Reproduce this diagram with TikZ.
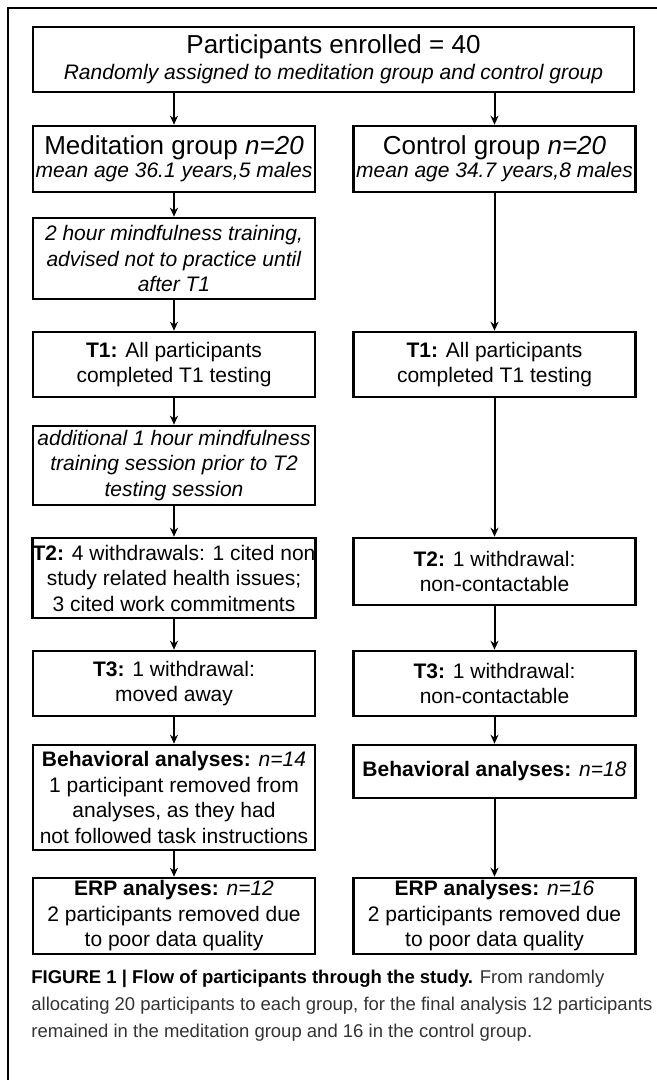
\documentclass[tikz,border=0pt]{standalone}
\usepackage{fontspec}
\setmainfont{Liberation Sans}
\usetikzlibrary{arrows.meta}

\begin{document}
\begin{tikzpicture}[x=0.5pt, y=-0.5pt, >={Stealth[length=4.5pt, width=4pt]},
        box/.style={draw, line width=1.3pt, align=center, inner sep=0pt,
            minimum width=141pt, font=\fontsize{10.5}{12.75}\selectfont},
        arr/.style={->, line width=1pt}]
    \useasboundingbox (0,0) rectangle (657,1080);
    % Frame
    \draw[line width=1.15pt] (8,1080) -- (8,8) -- (657,8);

    % Nodes
    \node[box, minimum width=300.5pt, minimum height=32.5pt] at (333.5, 59.5) (top)
        {{\fontsize{13}{13}\selectfont Participants enrolled = 40}\\
         \textit{Randomly assigned to meditation group and control group}};

    \node[box, minimum height=33pt] at (174, 159) (med)
        {{\fontsize{13}{13}\selectfont Meditation group \textit{n=20}}\\[-1.25pt]
         \textit{mean age 36.1 years,5 males}};
    \node[box, minimum height=33pt] at (494.5, 159) (ctrl)
        {{\fontsize{13}{13}\selectfont Control group \textit{n=20}}\\[-1.25pt]
         \textit{mean age 34.7 years,8 males}};

    \node[box, minimum height=40.5pt] at (174, 258.5) (train)
        {\textit{2 hour mindfulness training,}\\
         \textit{advised not to practice until}\\
         \textit{after T1}};

    \node[box, minimum height=32.5pt] at (174, 364.5) (t1m)
        {\textbf{T1:} All participants\\ completed T1 testing};
    \node[box, minimum height=32.5pt] at (494.5, 364.5) (t1c)
        {\textbf{T1:} All participants\\ completed T1 testing};

    \node[box, minimum height=39.5pt] at (174, 465.5) (extra)
        {\textit{additional 1 hour mindfulness}\\
         \textit{training session prior to T2}\\
         \textit{testing session}};

    \node[box, minimum height=40pt] at (174, 578) (t2m)
        {\textbf{T2:} 4 withdrawals: 1 cited non\\
         study related health issues;\\
         3 cited work commitments};
    \node[box, minimum height=33.5pt] at (494.5, 571.5) (t2c)
        {\textbf{T2:} 1 withdrawal:\\ non-contactable};

    \node[box, minimum height=32.5pt] at (174, 683.5) (t3m)
        {\textbf{T3:} 1 withdrawal:\\ moved away};
    \node[box, minimum height=32.5pt] at (494.5, 683.5) (t3c)
        {\textbf{T3:} 1 withdrawal:\\ non-contactable};

    \node[box, minimum height=52.5pt] at (174, 797.5) (behm)
        {\textbf{Behavioral analyses:} \textit{n=14}\\
         1 participant removed from\\
         analyses, as they had\\
         not followed task instructions};
    \node[box, minimum height=26.5pt] at (494.5, 771.5) (behc)
        {\textbf{Behavioral analyses:} \textit{n=18}};

    \node[box, minimum height=38pt] at (174, 916) (erpm)
        {\textbf{ERP analyses:} \textit{n=12}\\
         2 participants removed due\\
         to poor data quality};
    \node[box, minimum height=38pt] at (494.5, 916) (erpc)
        {\textbf{ERP analyses:} \textit{n=16}\\
         2 participants removed due\\
         to poor data quality};

    \node[anchor=north west, align=left, inner sep=0pt, text=black!80,
          font=\fontsize{9.25}{13.5}\selectfont] at (31, 970) (caption)
        {\textcolor{black}{\textbf{FIGURE 1 | Flow of participants through the study.}} From randomly\\
         allocating 20 participants to each group, for the final analysis 12 participants\\
         remained in the meditation group and 16 in the control group.};

    % Edges
    \draw[arr] (med.north |- top.south) -- (med.north);
    \draw[arr] (ctrl.north |- top.south) -- (ctrl.north);

    \draw[arr] (med) -- (train);
    \draw[arr] (train) -- (t1m);
    \draw[arr] (t1m) -- (extra);
    \draw[arr] (extra) -- (t2m);
    \draw[arr] (t2m) -- (t3m);
    \draw[arr] (t3m) -- (behm);
    \draw[arr] (behm) -- (erpm);

    \draw[arr] (ctrl) -- (t1c);
    \draw[arr] (t1c) -- (t2c);
    \draw[arr] (t2c) -- (t3c);
    \draw[arr] (t3c) -- (behc);
    \draw[arr] (behc) -- (erpc);
\end{tikzpicture}
\end{document}
